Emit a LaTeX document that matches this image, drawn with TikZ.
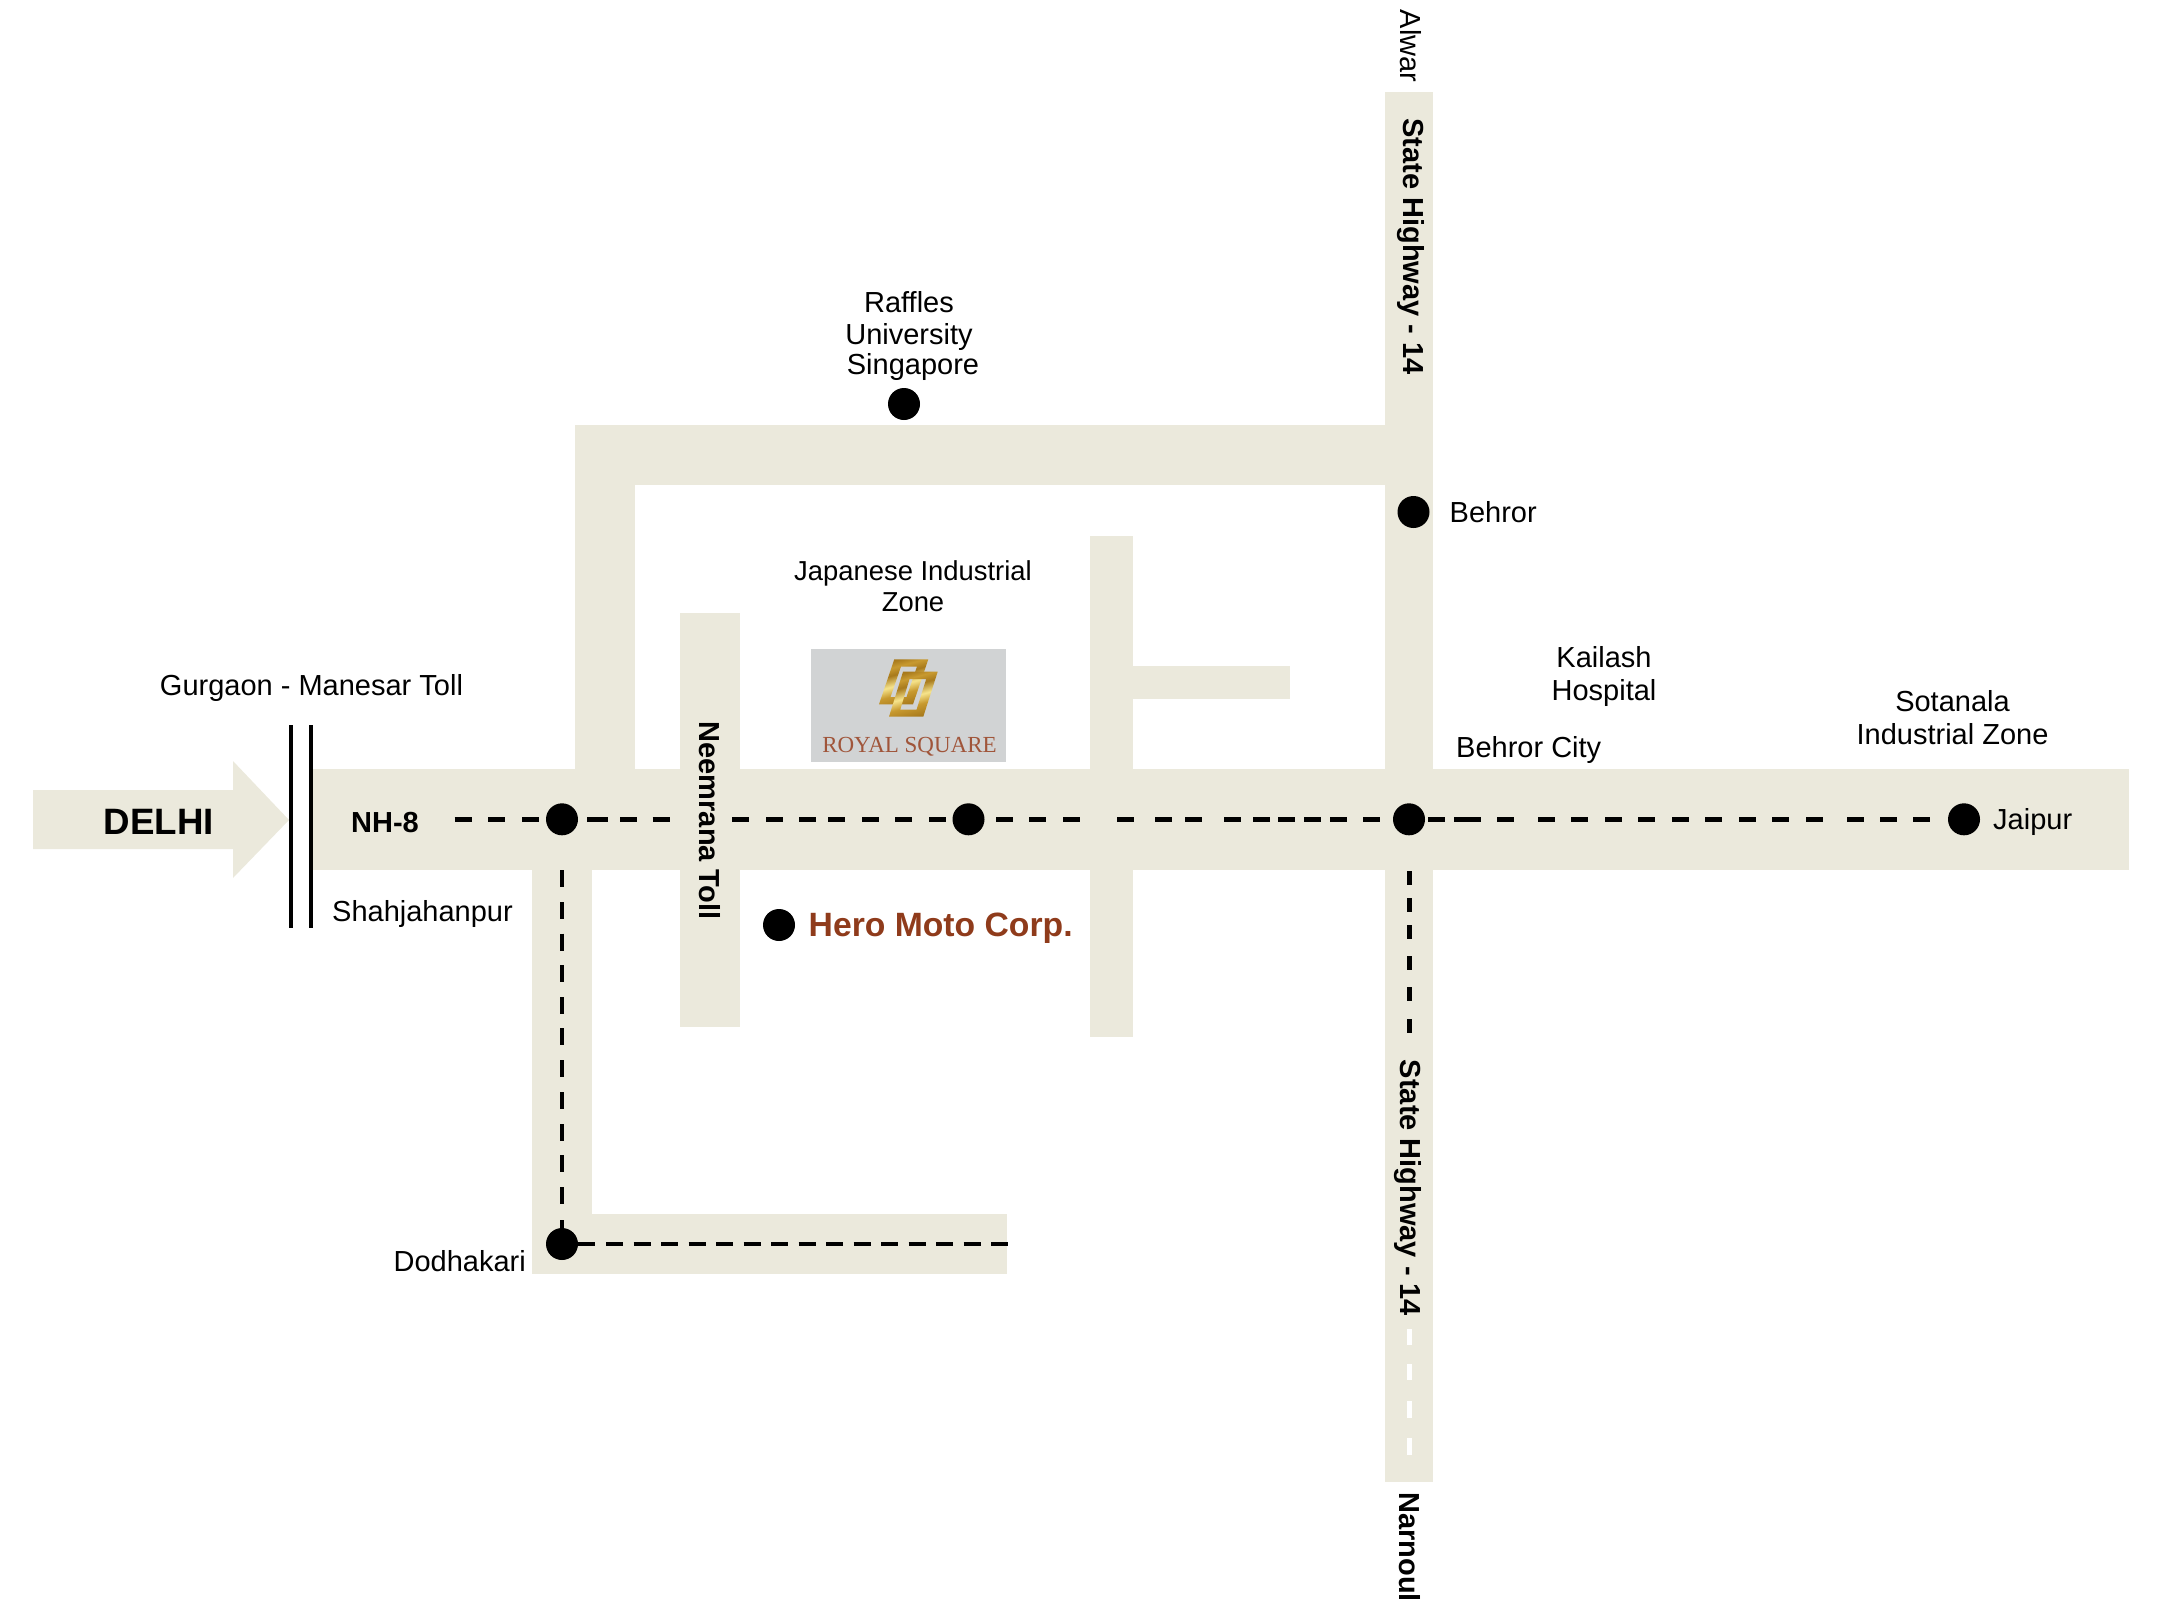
\documentclass[tikz,border=0pt]{standalone}
\usepackage{fontspec}
\setmainfont{Liberation Sans}
\newfontfamily\serifroyal{Liberation Serif}
\definecolor{road}{HTML}{EBE9DC}
\definecolor{logobox}{HTML}{D1D3D4}
\definecolor{hero}{HTML}{8F3B1B}
\definecolor{royal}{HTML}{A0553A}
\definecolor{goldd}{HTML}{A87A1C}
\definecolor{goldl}{HTML}{F6E48C}
\definecolor{goldm}{HTML}{C89A30}
\pgfdeclareverticalshading{goldband}{100bp}{color(0bp)=(goldd); color(25bp)=(goldd); color(38bp)=(goldm); color(48bp)=(goldl); color(60bp)=(goldd); color(68bp)=(goldm); color(75bp)=(goldd); color(100bp)=(goldd)}
\tikzset{
  roadfill/.style={fill=road,draw=none},
  place/.style={circle,fill=black,draw=none,minimum size=32pt,inner sep=0pt},
  lbl/.style={font=\fontsize{29}{31}\selectfont,inner sep=0pt,align=center},
  lblb/.style={font=\fontsize{29}{31}\bfseries\selectfont,inner sep=0pt},
  rdash/.style={line width=4.4pt},
  goldring/.style={even odd rule,shading=goldband,shading angle=15}
}
\newcommand{\hdashes}[2]{\foreach \a in {#2} \draw[rdash] (\a,#1) -- ++(17.3,0);}
\begin{document}
\begin{tikzpicture}[x=1pt,y=-1pt]
\useasboundingbox (0,0) rectangle (2164,1604);
% roads
\fill[roadfill] (33,790) -- (233,790) -- (233,761) -- (289,820) -- (233,878) -- (233,849) -- (33,849) -- cycle;
\fill[roadfill] (313,769) rectangle (2129,870);
\fill[roadfill] (1385,92) rectangle (1433,1482);
\fill[roadfill] (574.5,425) rectangle (1385,485);
\fill[roadfill] (574.5,425) rectangle (635,769);
\fill[roadfill] (680,613) rectangle (740,1027);
\fill[roadfill] (1090,536) rectangle (1133,1037);
\fill[roadfill] (1133,666) rectangle (1290,699);
\fill[roadfill] (532,870) rectangle (592,1274);
\fill[roadfill] (532,1214) rectangle (1007,1274);
% toll bars
\coordinate (b1t) at (291,725); \coordinate (b1b) at (291,928);
\coordinate (b2t) at (311,725); \coordinate (b2b) at (311,928);
\draw[line width=4.4pt] (b1t) -- (b1b);
\draw[line width=4.4pt] (b2t) -- (b2b);
% dashes NH-8
\hdashes{819.3}{454.5,488,522,620,652.5,732,766,799,828,862,895,929,996,1029,1063,1117,1155,1185,1224,1253,1278,1304,1330,1363,1428,1454,1464,1497,1538,1571,1605,1638,1672,1705,1739,1772,1806,1847,1880,1913}
\draw[rdash] (587,819.3) -- (608,819.3);
% dashes vertical left
\foreach \b in {870,902,933.5,965,997,1028,1060,1092,1124,1155,1187,1220}
  \draw[rdash] (561.7,\b) -- ++(0,17);
% dashes bottom
\draw[rdash] (575,1244) -- (595,1244);
\foreach \k in {0,...,14} \draw[rdash] ({606+27.5*\k},1244) -- ++(17,0);
% dashes vertical right
\foreach \b in {871,898,925,956,987,1019}
  \draw[rdash] (1409.3,\b) -- ++(0,14);
\foreach \b/\l in {1329/16,1364/16,1401/17,1438/17}
  \draw[rdash,white] (1409.3,\b) -- ++(0,\l);
% places
\node[place] (p1) at (562,819.3) {};
\node[place] (p2) at (968.5,819.3) {};
\node[place] (p3) at (1409,819.3) {};
\node[place] (p4) at (1964,819.3) {};
\node[place] (p5) at (1413.5,512) {};
\node[place] (p6) at (904,404) {};
\node[place] (p7) at (779,925) {};
\node[place] (p8) at (562,1244) {};
% logo
\fill[logobox] (811,649) rectangle (1006,762);
\shade[goldring] (894.3,659.3) -- (928.3,659.3) -- (913,704.3) -- (879,704.3) -- cycle
  (901,666.5) -- (917,666.5) -- (906.5,697) -- (890.5,697) -- cycle;
\shade[goldring] (903,671.7) -- (937.7,671.7) -- (923.3,716.7) -- (889,716.7) -- cycle
  (909.5,679) -- (926.2,679) -- (916.6,709.5) -- (900.3,709.5) -- cycle;
\node[inner sep=0pt,text=royal,font=\serifroyal\fontsize{23}{24}\selectfont] (royal) at (909.5,746.5) {ROYAL SQUARE};
% labels
\node[inner sep=0pt,font=\fontsize{36.7}{38}\bfseries\selectfont] (delhi) at (159,822) {DELHI};
\node[lblb] (nh) at (385,823) {NH-8};
\node[lbl] (gurgaon) at (311.5,687.5) {Gurgaon - Manesar Toll};
\node[lbl,anchor=west] (shah) at (332,913.5) {Shahjahanpur};
\node[lbl,anchor=east] (dodh) at (526,1261) {Dodhakari};
\node[lbl] (raffles1) at (909,302.5) {Raffles};
\node[lbl] (raffles2) at (909,336.5) {University};
\node[lbl] (raffles3) at (913,367) {Singapore};
\node[lbl,font=\fontsize{27.4}{30}\selectfont] (jap) at (913,586.5) {Japanese Industrial\\[1pt]Zone};
\node[lbl] (kail) at (1604,676.5) {Kailash\\[2pt]Hospital};
\node[lbl] (sot) at (1952.5,717.5) {Sotanala\\[2pt]Industrial Zone};
\node[lbl,anchor=west] (bc) at (1456,750) {Behror City};
\node[lbl,anchor=west] (beh) at (1449.5,512) {Behror};
\node[lbl,anchor=west] (jai) at (1993,821.5) {Jaipur};
\node[inner sep=0pt,anchor=west,text=hero,font=\fontsize{33.7}{36}\bfseries\selectfont] (heroc) at (808.5,928) {Hero Moto Corp.};
\node[lbl,rotate=-90] (alwar) at (1410.5,46) {Alwar};
\node[lblb,rotate=-90] (sh1) at (1411,246.5) {State Highway - 14};
\node[lblb,rotate=-90] (sh2) at (1408,1188) {State Highway - 14};
\node[lblb,rotate=-90] (narn) at (1410,1547) {Narnoul};
\node[lblb,rotate=-90] (neem) at (710,820.5) {Neemrana Toll};
\end{tikzpicture}
\end{document}
